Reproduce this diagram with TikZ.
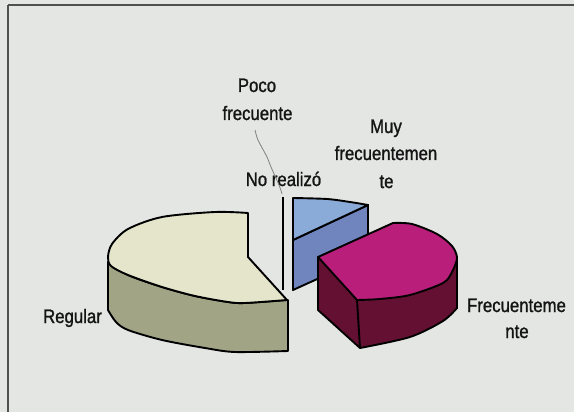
\documentclass[tikz,border=0pt]{standalone}
\usepackage{fontspec}
\setmainfont{Liberation Sans}[FakeStretch=0.88]
\newfontfamily\lblfont{Liberation Sans}[FakeStretch=0.86, FakeBold=1.2]
\definecolor{bg}{RGB}{228,230,228}
\definecolor{framecol}{RGB}{80,80,80}
\definecolor{regtop}{RGB}{228,229,203}
\definecolor{regside}{RGB}{162,164,134}
\definecolor{blutop}{RGB}{138,170,216}
\definecolor{bluside}{RGB}{112,133,190}
\definecolor{magtop}{RGB}{184,30,122}
\definecolor{magside}{RGB}{100,16,50}
\definecolor{txt}{RGB}{20,20,20}
\tikzset{
  slice/.style={draw=black, line width=1.9pt, line join=round},
  framestyle/.style={draw=framecol, line width=1.3pt},
  lbl/.style={anchor=base, inner sep=0pt, text=txt, font=\lblfont\fontsize{19.5}{26}\selectfont},
  leader/.style={draw=gray, line width=0.8pt}
}
\begin{document}
\begin{tikzpicture}[x=1pt,y=-1pt]
\useasboundingbox (0,0) rectangle (574,412);
\fill[bg] (0,0) rectangle (574,412);
\draw[framestyle] (8,5) -- (574,5);
\draw[framestyle] (8,5) -- (8,412);

% Regular slice: side
\filldraw[slice, fill=regside] (108,262) -- (108,310)
  -- plot[smooth] coordinates {(108,310) (116,322) (128,330) (162,340) (205,348) (235,352) (288,351)}
  -- (288,300)
  -- plot[smooth] coordinates {(287,300) (245,303) (228,302) (195,296) (162,287) (128,275) (108,262)}
  -- cycle;
% Regular slice: top
\filldraw[slice, fill=regtop] (248,213) -- (248,257) -- (287,300)
  -- plot[smooth] coordinates {(287,300) (245,303) (228,302) (195,296) (162,287) (128,275) (111,266) (108,257) (112,244) (128,229) (162,217) (215,212) (248,213)}
  -- cycle;

% No realizó (0 %) slice
\draw[line width=1.6pt, black] (283,197) -- (283,290);

% Muy frecuentemente slice
\filldraw[slice, fill=bluside] (293,240) -- (368,205) -- (368,256) -- (293,290) -- cycle;
\filldraw[slice, fill=blutop] (293,240) -- (293,198)
  -- plot[smooth] coordinates {(293,198) (327,199) (350,202) (368,205)}
  -- cycle;

% Frecuentemente slice
\filldraw[slice, fill=magside] (318,257) -- (318,310) -- (360,348)
  -- plot[smooth] coordinates {(360,348) (410,337) (443,321) (457,308)}
  -- (457,257) -- cycle;
\draw[slice] (357,300) -- (360,348);
\filldraw[slice, fill=magtop] (318,257) -- (393,223)
  -- plot[smooth] coordinates {(393,223) (412,224) (437,234) (452,246) (457,258) (452,272) (443,283) (410,295) (380,299) (357,300)}
  -- cycle;

% labels
\node[lbl] (poco1) at (257,92) {Poco};
\node[lbl] (poco2) at (257.5,120) {frecuente};
\node[lbl] (muy1) at (386,133) {Muy};
\node[lbl] (muy2) at (386,160) {frecuentemen};
\node[lbl] (muy3) at (386.5,188) {te};
\node[lbl] (nor) at (283.5,186) {No realizó};
\node[lbl] (reg) at (72.5,323) {Regular};
\node[lbl] (fre1) at (516.5,312) {Frecuenteme};
\node[lbl] (fre2) at (517,338) {nte};

% leader line from "Poco frecuente" to the 0 % slice
\coordinate (leadA) at (255,130);
\coordinate (leadB) at (282,194);
\draw[leader] plot[smooth] coordinates {(leadA) (258,140) (267,157) (271,167) (279,185) (leadB)};
\end{tikzpicture}
\end{document}
